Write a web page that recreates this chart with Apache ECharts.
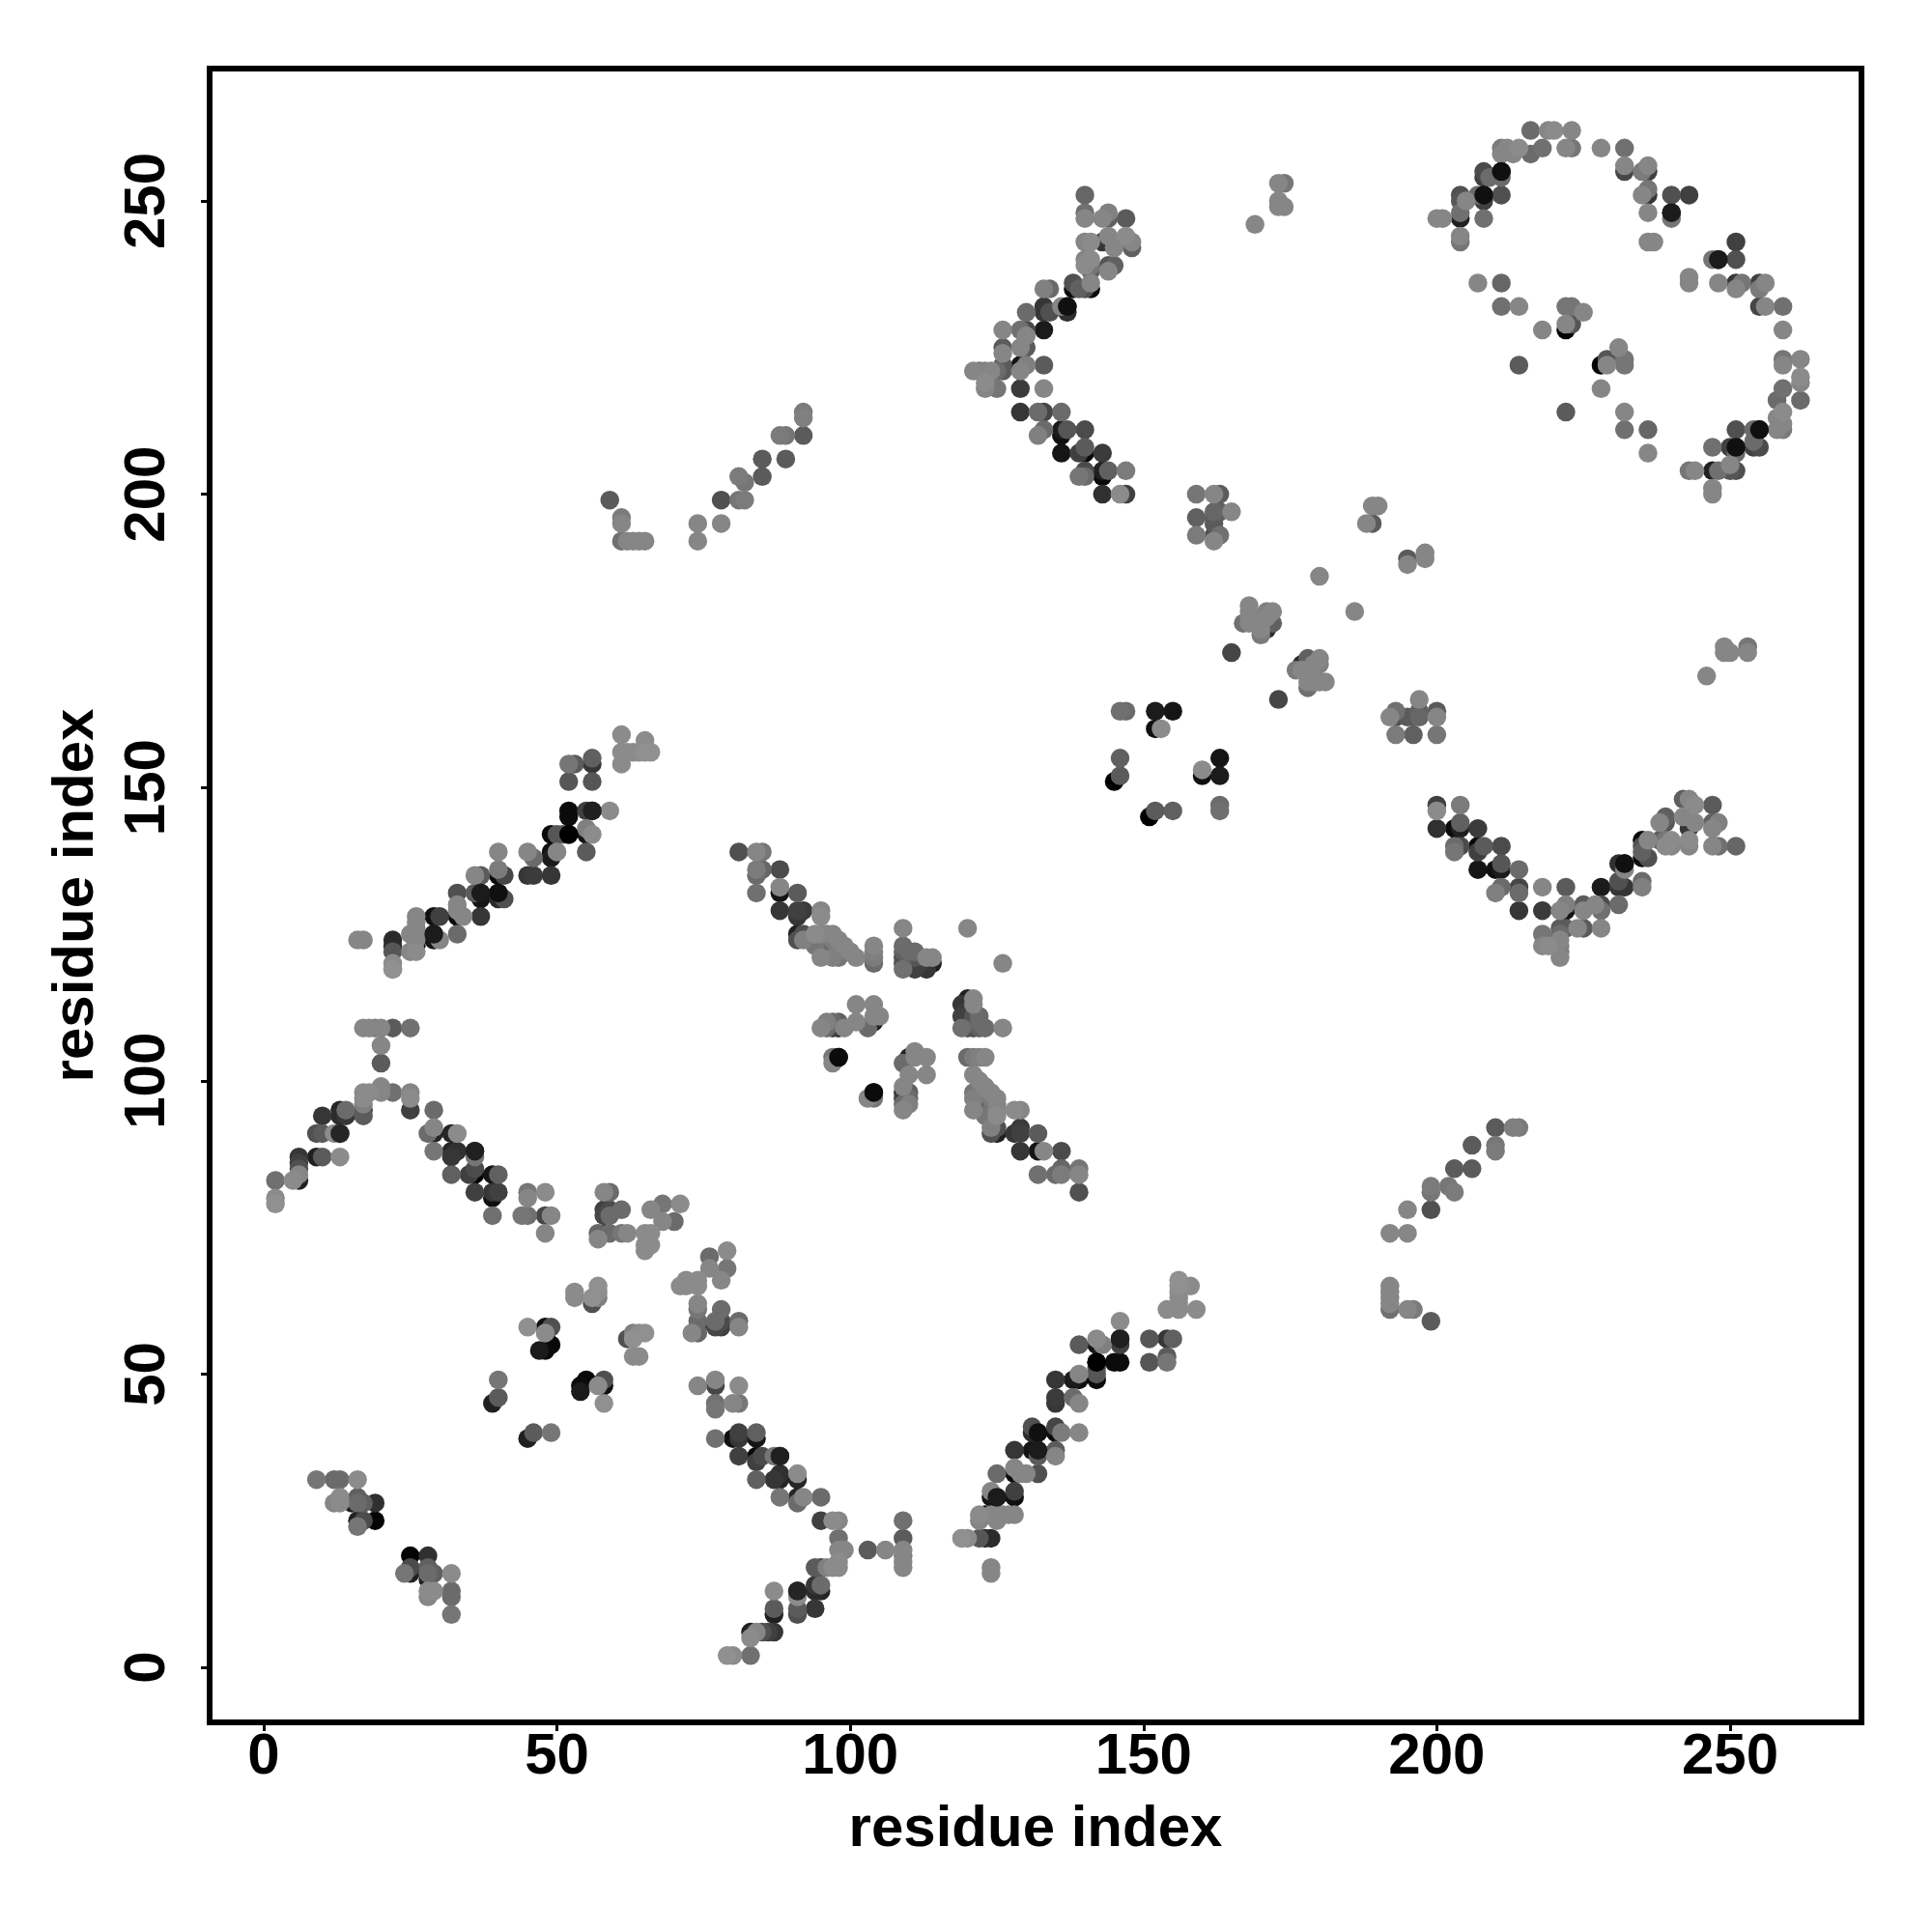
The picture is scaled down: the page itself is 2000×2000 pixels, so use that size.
<!DOCTYPE html>
<html><head><meta charset="utf-8">
<style>html,body{margin:0;padding:0;background:#fff}#c{width:2000px;height:2000px}</style>
<script src="https://cdn.jsdelivr.net/npm/echarts@6/dist/echarts.min.js"></script>
</head><body><div id="c"></div>
<script>
// Each contact is [residue i, residue j, grey level]; the contact map shows both (i,j) and (j,i).
const tickValues=[0,50,100,150,200,250];
const axisTitle='residue index';
const contactsA=[[19,25,5],[19,28,45],[16,24,110],[16,25,30],[17,25,70],[16,28,100],[17,28,90],[16,29,90],[16,32,130],[15,28,30],[12,28,125],[13,28,130],[13,29,130],[13,32,100],[12,32,100],[9,32,110],
[40,46,85],[39,45,30],[40,49,110],[45,58,135],[48,58,15],[49,58,75],[48,57,130],[49,55,8],[48,54,10],[47,54,25]];
const contactsB=[[2,83,105],[2,80,130],[2,79,135],[5,83,130],[6,84,125],[6,83,30],[6,87,50],[6,86,60],[6,85,75],[9,87,30],[10,87,85],[13,87,130],[9,91,75],[10,91,85],[12,91,130],[13,91,35],[10,94,50],[13,95,35],[14,95,100],[13,94,40],[14,94,50],[17,94,85],[17,95,60],[17,96,120],[17,98,130],[18,98,130],[17,97,130],[20,99,125],[20,98,125],[22,98,105],[25,98,125],[25,97,130],[25,95,60],
[17,109,125],[18,109,125],[19,109,115],[20,109,125],[22,109,85],[25,109,105],[20,106,125],[20,103,85],[22,119,130]];
const contactsC=[[29,95,100],[29,92,125],[29,91,35],[28,91,100],[29,88,110],[32,91,35],[33,91,130],[32,88,35],[33,88,45],[32,87,50],[32,84,90],[36,88,30],[36,87,110],[36,85,70],[36,84,5],[35,84,60],[36,81,60],[39,84,20],[40,84,90],[39,81,50],[40,81,60],[39,80,15],[39,77,105],
[45,81,110],[45,80,125],[48,81,130],[44,77,110],[45,77,105],[48,77,65],[49,77,125],[48,74,125],[58,81,125],[59,81,100],[58,78,60],[59,78,70],[61,78,100],[58,77,65],[59,77,100],[57,74,95],[58,74,60],[59,74,100],[61,74,110],[62,74,125],[57,73,125],
[66,78,125],[68,79,110],[71,79,130],[68,76,125],[70,76,100],[65,74,130],[66,74,130],[65,71,130],[66,72,130],[65,72,130],[53,64,130],[53,63,130],[57,65,135],[57,64,130],[56,63,135],[56,62,75],[57,63,120]];
const contactsD=[[16,124,125],[17,124,125],[22,124,40],[22,123,40],[22,122,80],[22,120,130],[22,119,135],[25,125,125],[26,128,125],[26,127,125],[26,126,120],[26,125,125],[26,124,125],[26,123,10],[25,122,125],[26,122,130],[29,125,25],[30,124,125],[29,124,20],[29,128,15],[30,128,60],[33,132,75],[33,130,125],[33,128,10],[33,129,125],[34,128,125],[33,125,100],[37,128,50],[36,132,85],[37,132,25],[37,131,20],[36,135,125],[37,135,85],[40,139,125],[40,136,115],[40,135,10],[41,135,65],[40,132,15],[40,131,40],[41,131,75],[45,139,125],[46,138,100],[45,135,50],[46,135,55],[49,135,50],[49,139,15],[49,138,25],[50,139,125],[49,142,10],[50,142,80],[52,142,0],[51,142,80],[52,146,10],[52,145,10],[55,146,60],[56,146,30],[59,146,130],[55,143,120],[56,142,130],[55,142,20],[55,139,85],[52,154,110],[53,154,85],[56,155,90],[56,154,50],[52,151,80],[56,151,80],[61,159,130],[61,156,130],[62,156,130],[63,156,130],[64,156,130],[65,156,135],[66,156,135],[65,158,130],[61,154,130]];
const contactsE=[[81,139,75],[84,139,125],[85,139,110],[84,136,115],[85,136,95],[84,135,100],[88,136,70],[84,132,105],[88,133,125],[88,132,20],[91,132,85],[88,129,50],[91,129,60],[92,129,55],[91,128,50],[95,129,125],[95,128,130],[91,125,30],[92,125,75],[91,124,75],[92,124,120],[94,125,130],[94,124,10],[94,123,110],[95,125,125],[95,124,100],[95,121,125],[96,125,120],[97,125,125],[97,124,115],[96,122,95],[97,121,120],[98,124,125],[98,121,110],[99,123,125],[100,122,125],[101,121,125],[104,123,125],[104,122,120],[104,121,115],[104,120,100],[109,126,125],[109,123,100],[109,122,90],[109,121,70],[109,120,75],[109,119,105],[110,122,100],[110,120,60],[111,122,100],[111,121,80],[111,119,60],[112,120,55],[113,120,50],[113,121,125],[113,119,50],[114,121,125],[114,120,30],[120,126,125],
[95,109,125],[96,110,120],[97,110,100],[98,110,90],[96,109,100],[97,109,60],[98,109,40],[99,109,125],[101,110,125],[104,110,30],[103,109,100],[104,111,125],[105,111,125],[101,113,125],[104,113,125],[97,104,110],[97,103,125],[98,104,10]];
const contactsF=[[140,251,95],[140,248,105],[140,247,125],[143,247,125],[144,248,120],[144,247,90],[147,247,85],[140,243,125],[141,243,130],[144,244,125],[143,243,50],[147,244,130],[148,243,125],[148,242,90],[145,242,125],[140,240,125],[140,239,130],[141,240,130],[141,239,110],[141,238,90],[144,239,80],[145,239,90],[144,238,125],[138,236,75],[140,235,75],[141,236,125],[141,235,10],[138,235,10],[139,235,90],[133,235,120],[134,235,100],[133,232,50],[133,231,50],[134,231,75],[136,232,125],[137,232,15],[137,231,45],[130,231,100],[126,228,125],[129,228,105],[130,228,70],[130,227,125],[133,228,25],[126,225,85],[126,224,125],[129,225,125],[130,225,85],[129,222,20],[130,222,120],[133,222,85],[129,221,125],[121,221,125],[122,221,110],[123,221,120],[124,221,125],[126,222,85],[126,221,85],[125,221,100],[123,218,125],[125,218,110],[129,218,55],[133,218,125],[123,219,130],[129,214,50],[132,214,100],[133,214,65],[136,214,100],[132,210,120],[133,211,100],[136,211,25],[137,211,80],[140,211,70],[136,210,15],[136,207,20],[139,207,60],[140,208,85],[140,207,8],[143,207,55],[139,203,110],[140,204,70],[140,203,100],[143,204,30],[144,204,90],[143,203,10],[147,204,115],[143,200,45],[146,200,130],[147,200,60],[173,253,125],[174,253,110],[173,250,125],[174,249,125],[173,249,125],[169,246,125]];
const contactsG=[[216,262,100],[219,262,125],[220,262,130],[223,262,125],[211,259,115],[212,259,125],[214,259,130],[213,258,125],[216,258,100],[218,259,105],[222,259,125],[223,259,110],[228,259,125],[232,259,105],[211,258,125],[208,255,70],[211,255,15],[208,254,60],[209,254,100],[211,254,100],[204,251,75],[204,250,80],[205,250,125],[207,251,100],[208,251,15],[208,250,60],[211,251,75],[200,247,125],[201,247,125],[204,248,105],[204,247,30],[208,247,105],[204,244,125],[204,243,110],[232,256,125],[232,255,65],[235,255,115],[236,256,125],[236,255,60],[235,251,125],[236,252,110],[236,251,50],[240,251,75],[243,251,60],[236,248,125],[240,248,25],[240,247,110],[236,243,125],[237,243,125],
[207,236,125],[211,236,95],[211,232,105],[214,232,125],[222,232,110],[223,232,110],[225,231,125],[218,228,125],[222,229,125],[223,229,80],[222,228,5],[214,222,85]];
const contactsH=[[159,200,110],[162,200,125],[163,200,85],[159,196,90],[162,197,95],[162,196,85],[163,197,90],[165,197,125],[162,195,85],[159,193,115],[162,193,75],[163,193,105],[162,192,125],[189,198,125],[190,198,125],[188,195,125],[189,195,85]];
const contactsI=[[168,181,125],[167,178,105],[168,180,125],[168,179,125],[168,178,125],[171,180,120],[172,180,125],[172,178,90],[171,177,40],[170,176,115],[170,177,125],[171,179,125],[165,173,65],[180,186,125],
[146,163,105],[147,163,100],[152,163,25],[155,163,20],[152,160,15],[153,160,130],[146,155,90],[146,152,85],[145,151,0]];
const contactsJ=[[59,199,85],[61,196,115],[61,195,125],[61,192,105],[62,192,125],[63,192,125],[64,192,125],[65,192,125],[74,195,125],[74,192,125],[78,195,125],[78,199,75],[81,203,115],[82,202,110],[81,199,110],[82,199,115],[85,206,85],[85,203,85],[89,206,85],[88,210,115],[89,210,110],[92,210,85],[92,214,115],[92,213,120]];
// Dark contacts that sit on top of their lighter neighbours in the picture.
const contactsOnTop=[[211,255,15],[208,251,15],[240,248,25],[52,142,0],[56,146,30],[98,104,10],[137,232,15],[13,91,35],[36,88,30],[29,125,25],[40,132,15],[37,132,25]];
const contacts=[contactsA,contactsB,contactsC,contactsD,contactsE,contactsF,contactsG,contactsH,contactsI,contactsJ].flat();
const mirror=list=>list.flatMap(([i,j,g])=>[[i,j,g],[j,i,g]]);
const points=mirror(contacts).sort((a,b)=>a[2]-b[2]).concat(mirror(contactsOnTop));
const font='"Liberation Sans"';
const chart=echarts.init(document.getElementById('c'),null,{renderer:'canvas'});
const axis=(extra)=>Object.assign({type:'value',splitLine:{show:false},axisLine:{show:false,onZero:false},
 axisTick:{show:true,length:9,inside:false,lineStyle:{color:'#000',width:3},customValues:tickValues},
 name:axisTitle,nameLocation:'middle',nameTextStyle:{fontFamily:font,fontWeight:'bold',fontSize:60,color:'#000'}},extra);
chart.setOption({animation:false,backgroundColor:'#fff',
 grid:{left:217,right:73,top:71,bottom:217,show:true,borderColor:'#000',borderWidth:6,backgroundColor:'#fff'},
 xAxis:axis({min:-9.22,max:272.4,nameGap:81,
  axisLabel:{customValues:tickValues,fontFamily:font,fontWeight:'bold',fontSize:60,color:'#000',margin:6}}),
 yAxis:axis({min:-9.39,max:272.56,nameGap:108,nameRotate:90,
  axisLabel:{customValues:tickValues,fontFamily:font,fontWeight:'bold',fontSize:60,color:'#000',rotate:90,margin:34}}),
 series:[{type:'scatter',symbol:'circle',symbolSize:19.5,data:points,large:false,
  encode:{x:0,y:1},
  itemStyle:{opacity:1,color:p=>{const g=Math.round(p.data[2]*1.07);return `rgb(${g},${g},${g})`;}},silent:true,z:5}]
});
</script></body></html>
